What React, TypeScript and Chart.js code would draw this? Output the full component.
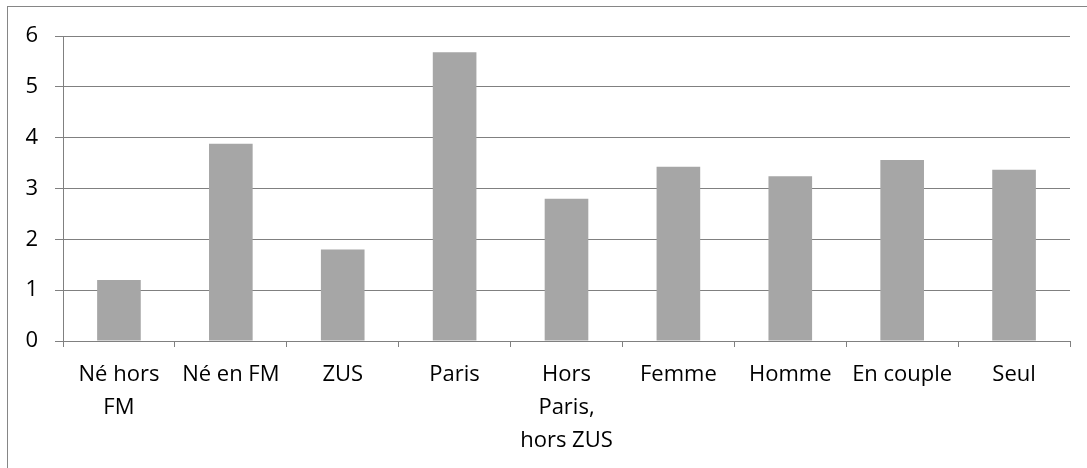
import React, { useEffect, useRef } from "react";
import { Chart, registerables } from "chart.js";

Chart.register(...registerables);

const categories: (string | string[])[] = [
  ["Né hors", "FM"],
  "Né en FM",
  "ZUS",
  "Paris",
  ["Hors", "Paris,", "hors ZUS"],
  "Femme",
  "Homme",
  "En couple",
  "Seul",
];
const values: number[] = [1.2, 3.88, 1.8, 5.68, 2.8, 3.43, 3.24, 3.56, 3.37];
const yMin = 0;
const yMax = 6;
const yStep = 1;

const FONT = "'Open Sans', sans-serif";

export default function App() {
  const ref = useRef<HTMLCanvasElement | null>(null);

  useEffect(() => {
    if (!ref.current) return;
    const chart = new Chart(ref.current, {
      type: "bar",
      data: {
        labels: categories,
        datasets: [
          {
            data: values,
            backgroundColor: "#a6a6a6",
            borderWidth: 0,
            categoryPercentage: 1,
            barPercentage: 0.39,
          },
        ],
      },
      options: {
        animation: false,
        responsive: false,
        maintainAspectRatio: false,
        devicePixelRatio: 1,
        layout: { padding: { top: 36, right: 17, left: 0, bottom: 0 } },
        plugins: {
          legend: { display: false },
          title: { display: false },
          tooltip: { enabled: false },
        },
        scales: {
          x: {
            grid: {
              drawOnChartArea: false,
              drawTicks: true,
              tickLength: 6,
              color: "#808080",
              offset: true,
            },
            border: { color: "#808080", width: 1 },
            ticks: {
              color: "#000000",
              font: { family: FONT, size: 22, lineHeight: 1.5 },
              maxRotation: 0,
              minRotation: 0,
              autoSkip: false,
              padding: 11,
            },
            afterFit: (scale: any) => {
              scale.height = 127;
            },
          },
          y: {
            min: yMin,
            max: yMax,
            grid: {
              color: "#808080",
              tickLength: 8,
              lineWidth: 1,
            },
            border: { color: "#808080", width: 1 },
            ticks: {
              stepSize: yStep,
              color: "#000000",
              font: { family: FONT, size: 22 },
              padding: 17,
            },
            afterFit: (scale: any) => {
              scale.width = 63;
            },
          },
        },
      },
    });
    return () => chart.destroy();
  }, []);

  return (
    <div
      style={{
        position: "fixed",
        left: 0,
        top: 0,
        width: 1087,
        height: 468,
        overflow: "hidden",
        background: "#ffffff",
      }}
    >
      <div
        style={{
          position: "absolute",
          left: 7,
          top: 6,
          width: 1200,
          height: 600,
          border: "1px solid #868686",
          boxSizing: "border-box",
        }}
      />
      <canvas
        ref={ref}
        width={1087}
        height={468}
        style={{ position: "absolute", left: 0, top: 0, width: 1087, height: 468 }}
      />
    </div>
  );
}
